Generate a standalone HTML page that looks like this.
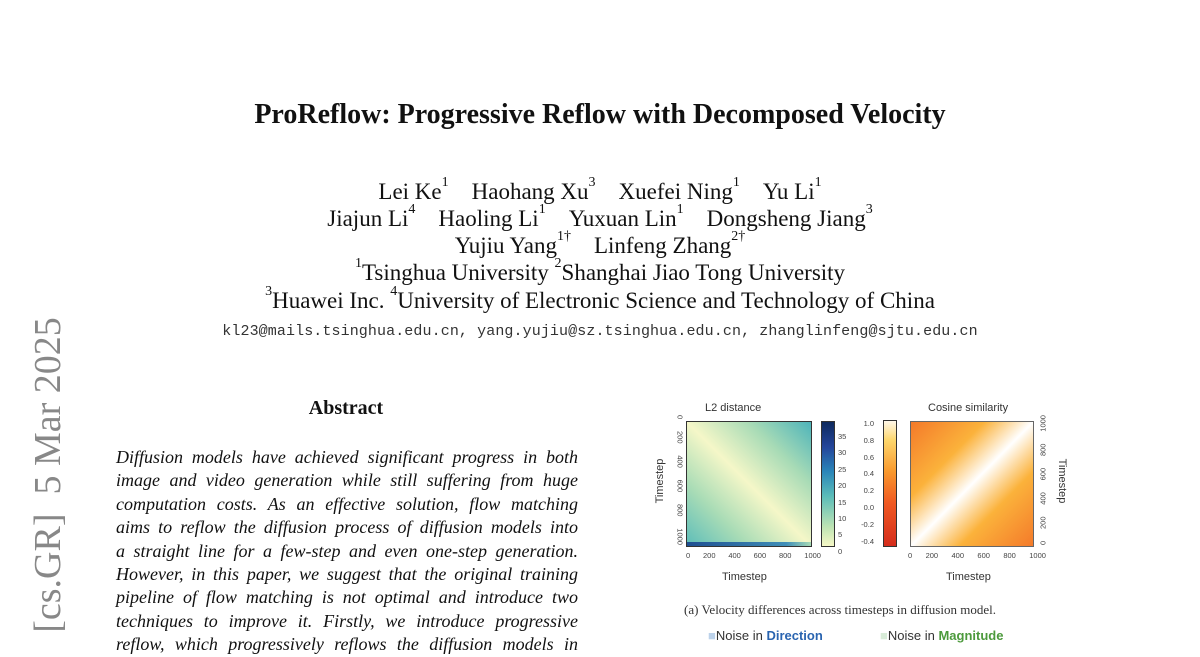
<!DOCTYPE html>
<html><head><meta charset="utf-8"><style>
body{margin:0;width:1200px;height:648px;overflow:hidden;background:#fff;position:relative;font-family:"Liberation Serif",serif;color:#111}
.a{position:absolute;white-space:nowrap}
.c{text-align:center;width:1200px;left:0}
.au{font-size:23px}
sup{font-size:14px;vertical-align:top;position:relative;top:-4px}
.abs{position:absolute;left:116px;width:462px;font-style:italic;font-size:18px;line-height:23.4px;text-align:justify;text-align-last:justify}
.sf{font-family:"Liberation Sans",sans-serif;color:#333}
.t{font-size:7.5px;font-family:"Liberation Sans",sans-serif;color:#444;position:absolute}
</style></head><body>
<div class="a c" style="top:99px;font-size:28px;font-weight:bold">ProReflow: Progressive Reflow with Decomposed Velocity</div>
<div class="a c au" style="top:179px">Lei Ke<sup>1</sup>&nbsp;&nbsp;&nbsp;&nbsp;Haohang Xu<sup>3</sup>&nbsp;&nbsp;&nbsp;&nbsp;Xuefei Ning<sup>1</sup>&nbsp;&nbsp;&nbsp;&nbsp;Yu Li<sup>1</sup></div>
<div class="a c au" style="top:206px">Jiajun Li<sup>4</sup>&nbsp;&nbsp;&nbsp;&nbsp;Haoling Li<sup>1</sup>&nbsp;&nbsp;&nbsp;&nbsp;Yuxuan Lin<sup>1</sup>&nbsp;&nbsp;&nbsp;&nbsp;Dongsheng Jiang<sup>3</sup></div>
<div class="a c au" style="top:233px">Yujiu Yang<sup>1†</sup>&nbsp;&nbsp;&nbsp;&nbsp;Linfeng Zhang<sup>2†</sup></div>
<div class="a c au" style="top:260px"><sup>1</sup>Tsinghua University <sup>2</sup>Shanghai Jiao Tong University</div>
<div class="a c au" style="top:288px"><sup>3</sup>Huawei Inc. <sup>4</sup>University of Electronic Science and Technology of China</div>
<div class="a c" style="top:323px;font-family:'Liberation Mono',monospace;font-size:15px;color:#333;letter-spacing:0.1px">kl23@mails.tsinghua.edu.cn, yang.yujiu@sz.tsinghua.edu.cn, zhanglinfeng@sjtu.edu.cn</div>
<div class="a" style="left:0;width:692px;text-align:center;top:397px;font-size:20px;font-weight:bold">Abstract</div>
<div class="a" style="left:48px;top:475px;transform:translate(-50%,-50%) rotate(-90deg);font-size:38px;color:#888">[cs.GR]&nbsp;&nbsp;5 Mar 2025</div>
<div class="abs" style="top:446px">
<div>Diffusion models have achieved significant progress in both</div>
<div>image and video generation while still suffering from huge</div>
<div>computation costs. As an effective solution, flow matching</div>
<div>aims to reflow the diffusion process of diffusion models into</div>
<div>a straight line for a few-step and even one-step generation.</div>
<div>However, in this paper, we suggest that the original training</div>
<div>pipeline of flow matching is not optimal and introduce two</div>
<div>techniques to improve it. Firstly, we introduce progressive</div>
<div>reflow, which progressively reflows the diffusion models in</div>
</div>
<div class="a sf" style="left:705px;top:402px;font-size:11px">L2 distance</div>
<div class="a sf" style="left:928px;top:402px;font-size:11px">Cosine similarity</div>
<div class="a" style="left:686px;top:421px;width:124px;height:124px;border:1px solid #333;background:linear-gradient(to top right,#5cbdb9 0%,#a9dcb6 25%,#f5f7c8 50%,#a8dbb6 75%,#4eb4ba 100%)"><div style="position:absolute;left:0;right:0;bottom:0;height:4px;background:linear-gradient(to right,#1f4f91,#3f8fb8 80%,#a8dbb6)"></div></div>
<div class="a" style="left:821px;top:421px;width:12px;height:124px;border:1px solid #333;background:linear-gradient(to top,#f6f8c6,#bfe4b4 15%,#5cbdb9 40%,#2a86b9 60%,#24459a 80%,#0e2a5e)"></div>
<div class="a" style="left:883px;top:420px;width:12px;height:125px;border:1px solid #333;background:linear-gradient(to top,#d42c1c,#f05a22 35%,#f99a2e 60%,#fdd76e 85%,#fff8ea)"></div>
<div class="a" style="left:910px;top:421px;width:122px;height:124px;border:1px solid #666;background:linear-gradient(to bottom right,#f47a2a 0%,#fbb23b 30%,#fff 50%,#fbb23b 70%,#f47a2a 100%)"></div>
<div class="a sf" style="left:660px;top:481px;font-size:11px;transform:translate(-50%,-50%) rotate(-90deg)">Timestep</div>
<div class="a sf" style="left:1062px;top:481px;font-size:11px;transform:translate(-50%,-50%) rotate(90deg)">Timestep</div>
<div class="t" style="left:615px;top:480px;width:130px;transform:translate(0,-50%) rotate(90deg);display:flex;justify-content:space-between"><span>0</span><span>200</span><span>400</span><span>600</span><span>800</span><span>1000</span></div>
<div class="t" style="left:978px;top:480px;width:130px;transform:translate(0,-50%) rotate(-90deg);display:flex;justify-content:space-between"><span>0</span><span>200</span><span>400</span><span>600</span><span>800</span><span>1000</span></div>
<div class="a sf" style="left:722px;top:571px;font-size:11px">Timestep</div>
<div class="a sf" style="left:946px;top:571px;font-size:11px">Timestep</div>
<div class="t" style="left:686px;top:551px;width:135px;display:flex;justify-content:space-between"><span>0</span><span>200</span><span>400</span><span>600</span><span>800</span><span>1000</span></div>
<div class="t" style="left:908px;top:551px;width:138px;display:flex;justify-content:space-between"><span>0</span><span>200</span><span>400</span><span>600</span><span>800</span><span>1000</span></div>
<div class="t" style="left:838px;top:429px;line-height:16.4px">35<br>30<br>25<br>20<br>15<br>10<br>5<br>0</div>
<div class="t" style="left:860px;top:416px;line-height:16.8px;text-align:right;width:14px">1.0<br>0.8<br>0.6<br>0.4<br>0.2<br>0.0<br>-0.2<br>-0.4</div>
<div class="a" style="left:0;width:1680px;text-align:center;top:602px;font-size:13px;color:#333">(a) Velocity differences across timesteps in diffusion model.</div>
<div class="a sf" style="left:708px;top:628px;font-size:13px"><span style="color:#bcd2ea">■</span>Noise in <b style="color:#2a64b0">Direction</b></div>
<div class="a sf" style="left:880px;top:628px;font-size:13px"><span style="color:#d8ecd8">■</span>Noise in <b style="color:#4c9a3c">Magnitude</b></div>
</body></html>
